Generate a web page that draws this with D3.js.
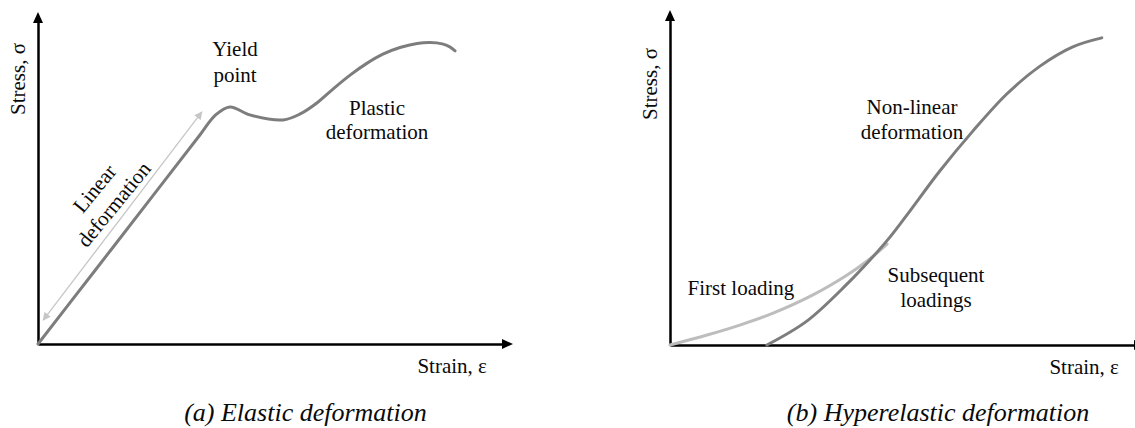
<!DOCTYPE html>
<html>
<head>
<meta charset="utf-8">
<script src="https://cdn.jsdelivr.net/npm/d3@7/dist/d3.min.js"></script>
<style>
  html, body { margin: 0; padding: 0; background: #fff; }
  svg { display: block; }
</style>
</head>
<body>
<svg id="chart" width="1135" height="428" font-family="'Liberation Serif', 'Times New Roman', serif"></svg>
<script>
// ---- Panel (a): elastic material, stress vs strain ----
const elasticStrain = [0, 12, 24, 34, 37.4, 40.4, 44.6, 51.6, 55.2, 58.7, 62.1, 65.7, 69.3, 72.6, 76.2, 79.8, 82.5, 85.1, 86.7, 87.8];
const elasticStress = [0, 22.15, 44.3, 62.8, 69.0, 71.4, 69.0, 67.5, 69.3, 72.6, 76.8, 81.0, 84.6, 87.3, 89.3, 90.5, 90.8, 90.4, 89.5, 88.3];
// double arrow spanning the linear region
const linearArrowStrain = [1.1, 34.5];
const linearArrowStress = [7.2, 69.9];

// ---- Panel (b): hyperelastic material ----
const firstStrain = [0, 7.8, 14.7, 21.7, 30.1, 37.3, 41.5, 45.7];
const firstStress = [0, 3.0, 6.0, 9.6, 15.1, 21.1, 25.3, 30.4];
const subsStrain = [20.4, 28.8, 37.3, 42.1, 46.3, 49.9, 56.8, 63.8, 70.9, 77.9, 84.8, 90.9];
const subsStress = [0, 7.2, 18.4, 25.6, 32.5, 39.2, 52.4, 64.5, 75.6, 84.0, 89.8, 92.5];

// ---- Text ----
const panelCaptions = ["(a) Elastic deformation", "(b) Hyperelastic deformation"];
const yAxisTitle = "Stress, \u03C3";
const xAxisTitle = "Strain, \u03B5";

const svg = d3.select("#chart");
const curveGray = "#7d7d7d";
const lightGray = "#bdbdbd";
const textColor = "#0a0a0a";

function zip(xs, ys) { return xs.map((x, i) => [x, ys[i]]); }

function makePanel(x0, y0, yTop, yTitleY) {
  const x = d3.scaleLinear().domain([0, 100]).range([x0, x0 + 475]);
  const y = d3.scaleLinear().domain([0, 100]).range([y0, y0 - 332]);
  const g = svg.append("g");

  // axes without ticks; domain lines stop at the arrowheads
  const xLine = d3.scaleLinear().domain([0, 1]).range([x0, x0 + 467]);
  const yLine = d3.scaleLinear().domain([0, 1]).range([y0, yTop + 8]);
  g.append("g").attr("transform", `translate(0,${y0})`)
    .call(d3.axisBottom(xLine).tickValues([]).tickSizeOuter(0))
    .select(".domain").attr("stroke", "#000").attr("stroke-width", 2.5);
  g.append("g").attr("transform", `translate(${x0},0)`)
    .call(d3.axisLeft(yLine).tickValues([]).tickSizeOuter(0))
    .select(".domain").attr("stroke", "#000").attr("stroke-width", 2.5);

  // arrowheads
  const xt = x0 + 475;
  g.append("path").attr("d", `M${xt},${y0} L${xt - 11},${y0 - 5} L${xt - 11},${y0 + 5} Z`).attr("fill", "#000");
  g.append("path").attr("d", `M${x0},${yTop} L${x0 - 5},${yTop + 11} L${x0 + 5},${yTop + 11} Z`).attr("fill", "#000");

  // axis titles
  g.append("text")
    .attr("transform", `translate(${x0 - 13},${yTitleY}) rotate(-90)`)
    .attr("text-anchor", "middle")
    .attr("font-size", 21).attr("fill", textColor)
    .text(yAxisTitle);
  g.append("text")
    .attr("x", x(94.5)).attr("y", y0 + 29)
    .attr("text-anchor", "end")
    .attr("font-size", 21).attr("fill", textColor)
    .text(xAxisTitle);
  return { g, x, y };
}

function multiline(g, cx, baseline, lines, dy) {
  const t = g.append("text").attr("text-anchor", "middle").attr("font-size", 21).attr("fill", textColor);
  lines.forEach((s, i) => t.append("tspan").attr("x", cx).attr("y", baseline + i * dy).text(s));
}

const line = d3.line().curve(d3.curveCatmullRom.alpha(0.5));

// ---------- panel (a) ----------
const A = makePanel(38, 344, 12, 79);

A.g.append("path")
  .attr("d", line.x(d => A.x(d[0])).y(d => A.y(d[1]))(zip(elasticStrain, elasticStress)))
  .attr("fill", "none").attr("stroke", curveGray).attr("stroke-width", 3)
  .attr("stroke-linejoin", "round").attr("stroke-linecap", "round");

// light double arrow
const defs = svg.append("defs");
["arrowEnd", "arrowStart"].forEach((id, i) => {
  defs.append("marker").attr("id", id)
    .attr("viewBox", "0 0 10 10").attr("refX", 9).attr("refY", 5)
    .attr("markerWidth", 10).attr("markerHeight", 8).attr("markerUnits", "userSpaceOnUse")
    .attr("orient", i === 0 ? "auto" : "auto-start-reverse")
    .append("path").attr("d", "M0,0 L10,5 L0,10 Z").attr("fill", "#c6c6c6");
});
const ax1 = A.x(linearArrowStrain[0]), ay1 = A.y(linearArrowStress[0]);
const ax2 = A.x(linearArrowStrain[1]), ay2 = A.y(linearArrowStress[1]);
A.g.append("line")
  .attr("x1", ax1).attr("y1", ay1).attr("x2", ax2).attr("y2", ay2)
  .attr("stroke", "#c6c6c6").attr("stroke-width", 1.3)
  .attr("marker-start", "url(#arrowStart)").attr("marker-end", "url(#arrowEnd)");

// rotated label along the linear region
const ang = Math.atan2(ay1 - ay2, ax2 - ax1) * 180 / Math.PI;
const lin = A.g.append("text").attr("text-anchor", "middle").attr("font-size", 21).attr("fill", textColor)
  .attr("transform", `translate(100,193) rotate(${-ang + 2})`);
lin.append("tspan").attr("x", 0).attr("y", 0).text("Linear");
lin.append("tspan").attr("x", 0).attr("y", 25).text("deformation");

multiline(A.g, 235, 56, ["Yield", "point"], 26);
multiline(A.g, 377, 115, ["Plastic", "deformation"], 24);

svg.append("text").attr("x", 305.5).attr("y", 421).attr("text-anchor", "middle")
  .attr("font-size", 26).attr("font-style", "italic").attr("fill", textColor).text(panelCaptions[0]);

// ---------- panel (b) ----------
const B = makePanel(670, 345, 10, 84);

B.g.append("path")
  .attr("d", line.x(d => B.x(d[0])).y(d => B.y(d[1]))(zip(firstStrain, firstStress)))
  .attr("fill", "none").attr("stroke", lightGray).attr("stroke-width", 3)
  .attr("stroke-linecap", "round");
B.g.append("path")
  .attr("d", line.x(d => B.x(d[0])).y(d => B.y(d[1]))(zip(subsStrain, subsStress)))
  .attr("fill", "none").attr("stroke", curveGray).attr("stroke-width", 3)
  .attr("stroke-linecap", "round");

multiline(B.g, 912, 114, ["Non-linear", "deformation"], 25);
multiline(B.g, 741, 295, ["First loading"], 0);
multiline(B.g, 936, 282, ["Subsequent", "loadings"], 25);

svg.append("text").attr("x", 938).attr("y", 421).attr("text-anchor", "middle")
  .attr("font-size", 26).attr("font-style", "italic").attr("fill", textColor).text(panelCaptions[1]);
</script>
</body>
</html>
